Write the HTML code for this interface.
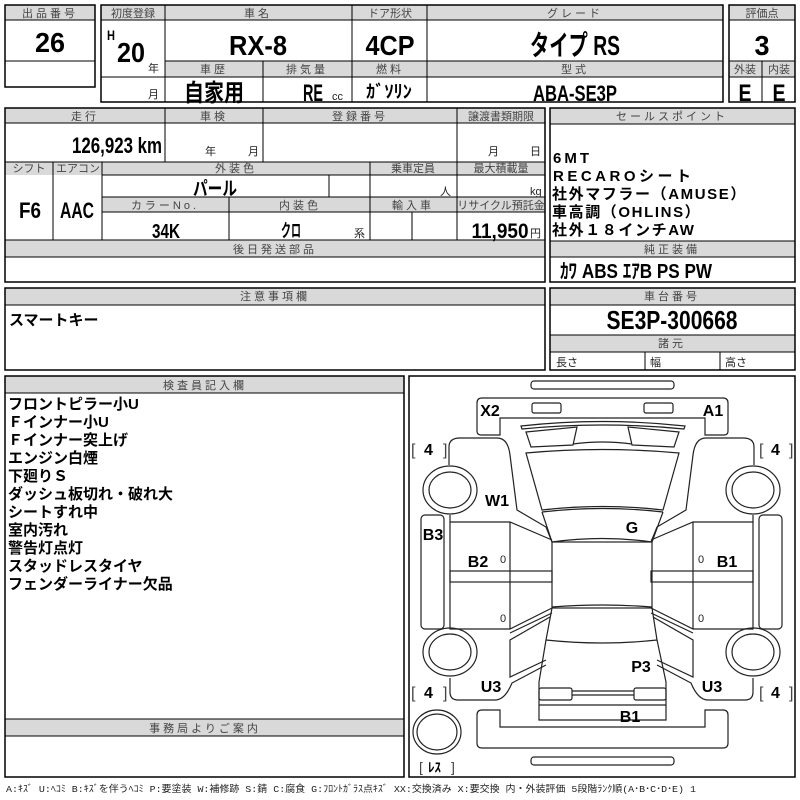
<!DOCTYPE html>
<html><head><meta charset="utf-8">
<style>
html,body{margin:0;padding:0;background:#fff;}
svg{display:block;}
.h{font-family:"Liberation Sans","Noto Sans CJK JP",sans-serif;font-size:11px;fill:#444;text-anchor:middle;letter-spacing:3px;}
.hs{font-family:"Liberation Sans","Noto Sans CJK JP",sans-serif;font-size:11px;fill:#444;text-anchor:middle;}
.b{font-family:"Liberation Sans","Noto Sans CJK JP",sans-serif;font-weight:bold;fill:#000;text-anchor:middle;}
.t{font-family:"Liberation Sans","Noto Sans CJK JP",sans-serif;font-weight:bold;font-size:15px;fill:#000;}
.s{font-family:"Liberation Sans","Noto Sans CJK JP",sans-serif;font-size:11px;fill:#222;}
.lb{font-family:"Liberation Sans","Noto Sans CJK JP",sans-serif;font-weight:bold;font-size:16px;fill:#000;text-anchor:middle;}
</style></head><body>
<svg width="800" height="800" viewBox="0 0 800 800" xmlns="http://www.w3.org/2000/svg">
<g fill="#d9d9d9" stroke="none">
<rect x="5" y="5" width="90" height="15"/>
<rect x="101" y="5" width="622" height="15"/>
<rect x="165" y="61" width="558" height="16"/>
<rect x="729" y="5" width="66" height="15"/>
<rect x="729" y="61" width="66" height="16"/>
<rect x="5" y="108" width="540" height="15"/>
<rect x="5" y="162" width="540" height="13"/>
<rect x="102" y="197" width="443" height="15"/>
<rect x="5" y="240" width="540" height="17"/>
<rect x="550" y="108" width="245" height="16"/>
<rect x="550" y="241" width="245" height="16"/>
<rect x="5" y="288" width="540" height="17"/>
<rect x="550" y="288" width="245" height="17"/>
<rect x="550" y="335" width="245" height="17"/>
<rect x="5" y="376" width="399" height="17"/>
<rect x="5" y="719" width="399" height="17"/>
</g>
<g fill="none" stroke="#000" stroke-width="1">
<rect x="5" y="5" width="90" height="82" stroke-width="1.5"/>
<line x1="5" y1="20" x2="95" y2="20"/><line x1="5" y1="61" x2="95" y2="61"/>
<rect x="101" y="5" width="622" height="97" stroke-width="1.5"/>
<line x1="101" y1="20" x2="723" y2="20"/>
<line x1="165" y1="5" x2="165" y2="102"/>
<line x1="352" y1="5" x2="352" y2="102"/>
<line x1="427" y1="5" x2="427" y2="102"/>
<line x1="101" y1="77" x2="723" y2="77"/>
<line x1="165" y1="61" x2="723" y2="61"/>
<line x1="263" y1="61" x2="263" y2="102"/>
<rect x="729" y="5" width="66" height="97" stroke-width="1.5"/>
<line x1="729" y1="20" x2="795" y2="20"/><line x1="729" y1="61" x2="795" y2="61"/><line x1="729" y1="77" x2="795" y2="77"/>
<line x1="762" y1="61" x2="762" y2="102"/>
<rect x="5" y="108" width="540" height="174" stroke-width="1.5"/>
<line x1="5" y1="123" x2="545" y2="123"/>
<line x1="165" y1="108" x2="165" y2="162"/>
<line x1="263" y1="108" x2="263" y2="162"/>
<line x1="457" y1="108" x2="457" y2="240"/>
<line x1="5" y1="162" x2="545" y2="162"/>
<line x1="102" y1="175" x2="545" y2="175"/>
<line x1="53" y1="162" x2="53" y2="240"/>
<line x1="102" y1="162" x2="102" y2="240"/>
<line x1="370" y1="162" x2="370" y2="240"/>
<line x1="329" y1="175" x2="329" y2="197"/>
<line x1="102" y1="197" x2="545" y2="197"/>
<line x1="102" y1="212" x2="545" y2="212"/>
<line x1="229" y1="197" x2="229" y2="240"/>
<line x1="412" y1="212" x2="412" y2="240"/>
<line x1="5" y1="240" x2="545" y2="240"/>
<line x1="5" y1="257" x2="545" y2="257"/>
<rect x="550" y="108" width="245" height="174" stroke-width="1.5"/>
<line x1="550" y1="124" x2="795" y2="124"/>
<line x1="550" y1="241" x2="795" y2="241"/><line x1="550" y1="257" x2="795" y2="257"/>
<rect x="5" y="288" width="540" height="82" stroke-width="1.5"/>
<line x1="5" y1="305" x2="545" y2="305"/>
<rect x="550" y="288" width="245" height="82" stroke-width="1.5"/>
<line x1="550" y1="305" x2="795" y2="305"/><line x1="550" y1="335" x2="795" y2="335"/><line x1="550" y1="352" x2="795" y2="352"/>
<line x1="645" y1="352" x2="645" y2="370"/><line x1="720" y1="352" x2="720" y2="370"/>
<rect x="5" y="376" width="399" height="401" stroke-width="1.5"/>
<line x1="5" y1="393" x2="404" y2="393"/>
<line x1="5" y1="719" x2="404" y2="719"/><line x1="5" y1="736" x2="404" y2="736"/>
<rect x="409" y="376" width="386" height="401" stroke-width="1.5"/>
</g>

<text class="h" x="50" y="17">出品番号</text>
<text class="hs" x="133" y="17">初度登録</text>
<text class="h" x="258" y="17">車名</text>
<text class="hs" x="390" y="17">ドア形状</text>
<text class="h" x="575" y="17">グレード</text>
<text class="hs" x="762" y="17">評価点</text>
<text class="h" x="214" y="73">車歴</text>
<text class="h" x="307" y="73">排気量</text>
<text class="h" x="390" y="73">燃料</text>
<text class="h" x="575" y="73">型式</text>
<text class="hs" x="745" y="73">外装</text>
<text class="hs" x="779" y="73">内装</text>
<text class="h" x="85" y="120">走行</text>
<text class="h" x="214" y="120">車検</text>
<text class="h" x="360" y="120">登録番号</text>
<text class="hs" x="501" y="120">譲渡書類期限</text>
<text class="hs" x="29" y="172">シフト</text>
<text class="hs" x="78" y="172">エアコン</text>
<text class="h" x="236" y="172">外装色</text>
<text class="hs" x="413" y="172">乗車定員</text>
<text class="hs" x="501" y="172">最大積載量</text>
<text class="h" x="165" y="209">カラーNo.</text>
<text class="h" x="300" y="209">内装色</text>
<text class="h" x="413" y="209">輸入車</text>
<text class="hs" x="501" y="209">リサイクル預託金</text>
<text class="h" x="275" y="253">後日発送部品</text>
<text class="h" x="672" y="120">セールスポイント</text>
<text class="h" x="672" y="253">純正装備</text>
<text class="h" x="275" y="300">注意事項欄</text>
<text class="h" x="672" y="300">車台番号</text>
<text class="h" x="672" y="347">諸元</text>
<text class="h" x="205" y="389">検査員記入欄</text>
<text class="h" x="205" y="732">事務局よりご案内</text>

<text class="b" x="50" y="52" font-size="28" textLength="30" lengthAdjust="spacingAndGlyphs">26</text>
<text class="b" x="111" y="40" font-size="14" textLength="8" lengthAdjust="spacingAndGlyphs">H</text>
<text class="b" x="131" y="62" font-size="28" textLength="28" lengthAdjust="spacingAndGlyphs">20</text>
<text class="s" x="148" y="72">年</text>
<text class="s" x="148" y="98">月</text>
<text class="b" x="258" y="55" font-size="28" textLength="58" lengthAdjust="spacingAndGlyphs">RX-8</text>
<text class="b" x="390" y="55" font-size="28" textLength="49" lengthAdjust="spacingAndGlyphs">4CP</text>
<text class="b" x="575" y="55" font-size="28" textLength="90" lengthAdjust="spacingAndGlyphs">タイプ RS</text>
<text class="b" x="762" y="55" font-size="28" textLength="15" lengthAdjust="spacingAndGlyphs">3</text>
<text class="b" x="214" y="101" font-size="24" textLength="60" lengthAdjust="spacingAndGlyphs">自家用</text>
<text class="b" x="313" y="101" font-size="24" textLength="20" lengthAdjust="spacingAndGlyphs">RE</text>
<text class="s" x="332" y="100">cc</text>
<text class="b" x="389" y="98" font-size="18" textLength="46" lengthAdjust="spacingAndGlyphs">ｶﾞｿﾘﾝ</text>
<text class="b" x="575" y="101" font-size="22" textLength="84" lengthAdjust="spacingAndGlyphs">ABA-SE3P</text>
<text class="b" x="745" y="101" font-size="24" textLength="13" lengthAdjust="spacingAndGlyphs">E</text>
<text class="b" x="779" y="101" font-size="24" textLength="13" lengthAdjust="spacingAndGlyphs">E</text>
<text class="b" x="117" y="153" font-size="22" textLength="90" lengthAdjust="spacingAndGlyphs">126,923 km</text>
<text class="s" x="205" y="155">年</text>
<text class="s" x="248" y="155">月</text>
<text class="s" x="488" y="155">月</text>
<text class="s" x="530" y="155">日</text>
<text class="b" x="30" y="218" font-size="22" textLength="22" lengthAdjust="spacingAndGlyphs">F6</text>
<text class="b" x="77" y="218" font-size="22" textLength="34" lengthAdjust="spacingAndGlyphs">AAC</text>
<text class="b" x="215" y="195" font-size="19" textLength="44" lengthAdjust="spacingAndGlyphs">パール</text>
<text class="s" x="440" y="195">人</text>
<text class="s" x="530" y="195">kg</text>
<text class="b" x="166" y="238" font-size="20" textLength="28" lengthAdjust="spacingAndGlyphs">34K</text>
<text class="b" x="291" y="237" font-size="18" textLength="20" lengthAdjust="spacingAndGlyphs">クロ</text>
<text class="s" x="354" y="237">系</text>
<text class="b" x="500" y="238" font-size="21" textLength="57" lengthAdjust="spacingAndGlyphs">11,950</text>
<text class="s" x="530" y="237">円</text>
<text class="t" x="553" y="163" letter-spacing="3">6MT</text>
<text class="t" x="553" y="181" letter-spacing="3.5">RECAROシート</text>
<text class="t" x="552" y="199" letter-spacing="1.6">社外マフラー（AMUSE）</text>
<text class="t" x="552" y="217" letter-spacing="1.6">車高調（OHLINS）</text>
<text class="t" x="552" y="235" letter-spacing="1.6">社外１８インチAW</text>
<text class="b" x="636" y="278" font-size="20" textLength="152" lengthAdjust="spacingAndGlyphs">ｶﾜ ABS ｴｱB PS PW</text>
<text class="t" x="9" y="325" font-size="17">スマートキー</text>
<text class="b" x="672" y="329" font-size="26" textLength="131" lengthAdjust="spacingAndGlyphs">SE3P-300668</text>
<text class="s" x="556" y="366">長さ</text>
<text class="s" x="650" y="366">幅</text>
<text class="s" x="725" y="366">高さ</text>
<g class="t" font-size="15">
<text x="8" y="409">フロントピラー小U</text>
<text x="8" y="427">Ｆインナー小U</text>
<text x="8" y="445">Ｆインナー突上げ</text>
<text x="8" y="463">エンジン白煙</text>
<text x="8" y="481">下廻りＳ</text>
<text x="8" y="499">ダッシュ板切れ・破れ大</text>
<text x="8" y="517">シートすれ中</text>
<text x="8" y="535">室内汚れ</text>
<text x="8" y="553">警告灯点灯</text>
<text x="8" y="571">スタッドレスタイヤ</text>
<text x="8" y="589">フェンダーライナー欠品</text>
</g>
<text x="6" y="792" font-family="Liberation Mono, Noto Sans CJK JP, monospace" font-size="9.5" fill="#222" textLength="690" lengthAdjust="spacingAndGlyphs">A:ｷｽﾞ U:ﾍｺﾐ B:ｷｽﾞを伴うﾍｺﾐ P:要塗装 W:補修跡 S:錆 C:腐食 G:ﾌﾛﾝﾄｶﾞﾗｽ点ｷｽﾞ XX:交換済み X:要交換 内・外装評価 5段階ﾗﾝｸ順(A･B･C･D･E) 1</text>

<g fill="none" stroke="#222" stroke-width="1.2">
<rect x="531" y="381" width="143" height="8" rx="3"/>
<rect x="531" y="757" width="143" height="8" rx="3"/>
<path d="M482,398 H723 Q728,398 728,403 V431 Q728,435 724,435 H705 V418 H500 V435 H481 Q477,435 477,431 V403 Q477,398 482,398 Z"/>
<rect x="532" y="403" width="29" height="10" rx="2"/>
<rect x="644" y="403" width="29" height="10" rx="2"/>
<path d="M521,426 Q602,417 685,426 L684,429 Q602,421 522,429 Z"/>
<path d="M526,432 L577,427 L573,445 L531,447 Z"/>
<path d="M679,432 L628,427 L632,445 L674,447 Z"/>
<path d="M573,444 Q602,440 632,444"/>
<path d="M526,453 Q602,446 679,453 L663,510 Q602,503 542,510 Z"/>
<path d="M542,512 Q602,505 663,512"/>
<path d="M542,512 L552,542 Q602,535 652,542 L663,512"/>
<rect x="552" y="542" width="100" height="66"/>
<path d="M552,607 Q602,603 652,607"/>
<path d="M552,608 L546,640 Q602,646 657,640 L652,608"/>
<path d="M546,640 L539,682 V720 H666 V682 L657,640"/>
<rect x="539" y="688" width="33" height="12" rx="2"/>
<rect x="634" y="688" width="32" height="12" rx="2"/>
<line x1="572" y1="691" x2="634" y2="691"/><line x1="572" y1="695" x2="634" y2="695"/>
<line x1="539" y1="705" x2="666" y2="705"/>
<path d="M482,710 H500 V727 H705 V710 H723 Q728,710 728,715 V743 Q728,748 723,748 H482 Q477,748 477,743 V715 Q477,710 482,710 Z"/>
</g>
<g fill="none" stroke="#222" stroke-width="1.2">
<path d="M449,465 V447 Q449,438 460,438 H497 Q508,438 510,455 L517,510 L546,527 L552,542"/>
<path d="M450,515 V522 H510 L552,540"/>
<rect x="421" y="515" width="23" height="114" rx="4"/>
<path d="M450,522 V629 H510 L552,608"/>
<line x1="510" y1="522" x2="510" y2="629"/>
<rect x="450" y="571" width="102" height="11"/>
<path d="M552,613 L510,633"/>
<path d="M550,617 L510,640 V677 L546,660"/>
<path d="M546,665 L512,683 Q505,700 495,700 H458 Q450,700 450,692 V678"/>
<ellipse cx="450" cy="490" rx="27" ry="24"/>
<ellipse cx="450" cy="490" rx="21" ry="18"/>
<ellipse cx="450" cy="652" rx="27" ry="24"/>
<ellipse cx="450" cy="652" rx="21" ry="18"/>
</g>
<g fill="none" stroke="#222" stroke-width="1.2" transform="translate(1203,0) scale(-1,1)">
<path d="M449,465 V447 Q449,438 460,438 H497 Q508,438 510,455 L517,510 L546,527 L552,542"/>
<path d="M450,515 V522 H510 L552,540"/>
<rect x="421" y="515" width="23" height="114" rx="4"/>
<path d="M450,522 V629 H510 L552,608"/>
<line x1="510" y1="522" x2="510" y2="629"/>
<rect x="450" y="571" width="102" height="11"/>
<path d="M552,613 L510,633"/>
<path d="M550,617 L510,640 V677 L546,660"/>
<path d="M546,665 L512,683 Q505,700 495,700 H458 Q450,700 450,692 V678"/>
<ellipse cx="450" cy="490" rx="27" ry="24"/>
<ellipse cx="450" cy="490" rx="21" ry="18"/>
<ellipse cx="450" cy="652" rx="27" ry="24"/>
<ellipse cx="450" cy="652" rx="21" ry="18"/>
</g>
<g fill="none" stroke="#222" stroke-width="1.2">
<ellipse cx="437" cy="732" rx="24" ry="22"/>
<ellipse cx="437" cy="732" rx="20" ry="18"/>
</g>
<g class="lb">
<text x="490" y="416">X2</text>
<text x="713" y="416">A1</text>
<text x="497" y="506">W1</text>
<text x="632" y="533">G</text>
<text x="433" y="540">B3</text>
<text x="478" y="567">B2</text>
<text x="727" y="567">B1</text>
<text x="641" y="672">P3</text>
<text x="491" y="692">U3</text>
<text x="712" y="692">U3</text>
<text x="630" y="722">B1</text>
</g>
<g font-family="Liberation Sans, Noto Sans CJK JP, sans-serif" font-size="16" fill="#000">
<text x="411" y="455" fill="#444">[</text><text x="424" y="455" font-weight="bold">4</text><text x="443" y="455" fill="#444">]</text>
<text x="759" y="455" fill="#444">[</text><text x="771" y="455" font-weight="bold">4</text><text x="789" y="455" fill="#444">]</text>
<text x="411" y="698" fill="#444">[</text><text x="424" y="698" font-weight="bold">4</text><text x="443" y="698" fill="#444">]</text>
<text x="759" y="698" fill="#444">[</text><text x="771" y="698" font-weight="bold">4</text><text x="789" y="698" fill="#444">]</text>
<text x="419" y="772" font-size="14" fill="#444">[</text><text x="428" y="772" font-size="13" font-weight="bold">ﾚｽ</text><text x="451" y="772" font-size="14" fill="#444">]</text>
</g>
<g font-family="Liberation Sans" font-size="11" fill="#222" text-anchor="middle">
<text x="503" y="563">0</text><text x="503" y="622">0</text>
<text x="701" y="563">0</text><text x="701" y="622">0</text>
</g>
</svg>
</body></html>
